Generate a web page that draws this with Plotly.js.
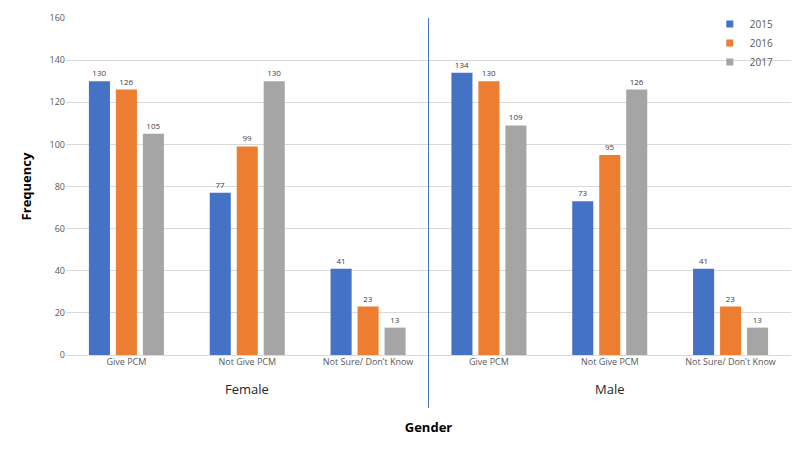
<!DOCTYPE html>
<html>
<head>
<meta charset="utf-8">
<script src="https://cdn.plot.ly/plotly-3.0.1.min.js"></script>
<style>html,body{margin:0;padding:0;background:#fff;}#chart{width:800px;height:450px;}</style>
</head>
<body>
<div id="chart"></div>
<script>
const genders = ['Female', 'Male'];
const responses = ['Give PCM', 'Not Give PCM', 'Not Sure/ Don\u2019t Know'];
const years = ['2015', '2016', '2017'];
const values2015 = [130, 77, 41, 134, 73, 41];
const values2016 = [126, 99, 23, 130, 95, 23];
const values2017 = [105, 130, 13, 109, 126, 13];
const colors = ['#4472C4', '#ED7D31', '#A5A5A5'];

const tickText = [];
genders.forEach(g => responses.forEach(r => tickText.push(r)));
const xPos = tickText.map((_, i) => i);

const series = [values2015, values2016, values2017];
const barTraces = series.map((vals, k) => ({
  type: 'bar',
  name: years[k],
  x: xPos,
  y: vals,
  marker: {color: colors[k]},
  text: vals.map(String),
  textposition: 'outside',
  cliponaxis: false,
  textfont: {size: 8, color: '#404040', family: 'Open Sans, sans-serif'},
  hoverinfo: 'skip',
  showlegend: false,
  legendgroup: years[k]
}));
const legendTraces = years.map((yr, k) => ({
  type: 'scatter',
  mode: 'markers',
  name: yr,
  x: [null],
  y: [null],
  marker: {symbol: 'square', size: 7, color: colors[k]},
  legendgroup: yr,
  showlegend: true,
  hoverinfo: 'skip'
}));

const annotations = genders.map((g, i) => ({
  text: g,
  x: i * responses.length + (responses.length - 1) / 2,
  xref: 'x',
  y: -0.1,
  yref: 'paper',
  yanchor: 'middle',
  showarrow: false,
  font: {size: 13, color: '#262626', family: 'Open Sans, sans-serif'}
}));

const layout = {
  width: 800,
  height: 450,
  margin: {l: 66, r: 9, t: 18, b: 95},
  paper_bgcolor: '#fff',
  plot_bgcolor: '#fff',
  barmode: 'group',
  bargap: 0.33,
  bargroupgap: 0.22,
  font: {family: 'Open Sans, sans-serif', color: '#595959'},
  xaxis: {
    range: [-0.5, 5.5],
    tickvals: xPos,
    ticktext: tickText,
    tickfont: {size: 9, color: '#595959'},
    showgrid: false,
    zeroline: false,
    showline: false,
    ticks: '',
    title: {text: '<b>Gender</b>', font: {size: 13, color: '#000'}, standoff: 55}
  },
  yaxis: {
    range: [0, 160],
    dtick: 20,
    tickfont: {size: 9, color: '#595959'},
    gridcolor: '#D9D9D9',
    gridwidth: 1,
    zeroline: true,
    zerolinecolor: '#D9D9D9',
    showline: false,
    ticks: '',
    title: {text: '<b>Frequency</b>', font: {size: 13, color: '#000'}, standoff: 14}
  },
  legend: {
    x: 0.888, y: 1.025, xanchor: 'left', yanchor: 'top',
    bgcolor: 'rgba(0,0,0,0)',
    font: {size: 10, color: '#595959'},
    itemwidth: 30,
    tracegroupgap: 0
  },
  annotations: annotations,
  shapes: [{
    type: 'line',
    xref: 'x', yref: 'paper',
    x0: 2.5, x1: 2.5,
    y0: -0.157, y1: 1,
    line: {color: '#4472C4', width: 1}
  }],
  showlegend: true
};

Plotly.newPlot('chart', barTraces.concat(legendTraces), layout, {displayModeBar: false, staticPlot: true});
</script>
</body>
</html>
